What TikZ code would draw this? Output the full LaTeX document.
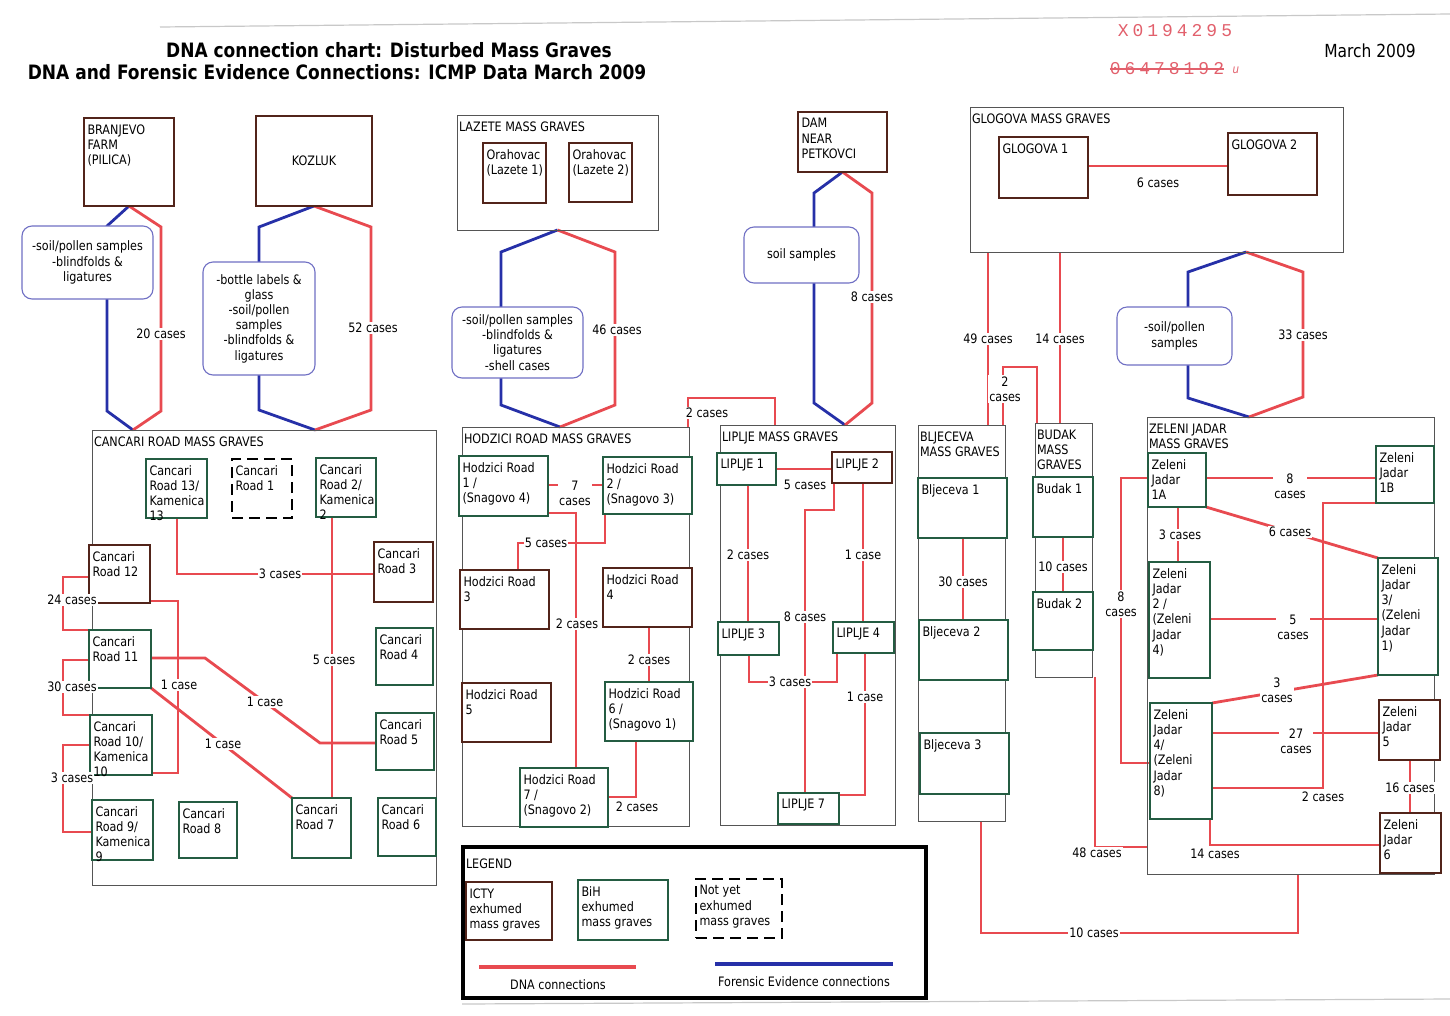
\documentclass[tikz,border=0pt]{standalone}
\usepackage{fontspec}
\setmainfont{DejaVu Sans}[FakeStretch=0.86]
\newfontfamily\stampfont[LetterSpace=22]{Liberation Mono}
\usetikzlibrary{calc}
\definecolor{dnared}{RGB}{232,74,80}
\definecolor{fevblue}{RGB}{38,48,168}
\definecolor{ictybrown}{RGB}{82,36,26}
\definecolor{bihgreen}{RGB}{36,92,66}
\definecolor{grpgray}{RGB}{85,85,85}
\definecolor{bubbleblue}{RGB}{112,112,196}
\definecolor{stampred}{RGB}{226,96,108}
\definecolor{scangray}{RGB}{200,200,200}
\newcommand{\tf}{\fontsize{13}{15.2}\selectfont}
\pgfdeclarelayer{bg}
\pgfsetlayers{bg,main}
\tikzset{
  icty/.style={draw=ictybrown, line width=2.8pt, fill=white},
  bih/.style={draw=bihgreen, line width=2.8pt, fill=white},
  notyet/.style={draw=black, line width=1.8pt, dash pattern=on 11pt off 6pt, fill=white},
  grp/.style={draw=grpgray, line width=0.9pt},
  bubble/.style={draw=bubbleblue, line width=1.1pt, rounded corners=10pt, fill=white, align=center, font=\tf},
  boxtext/.style={align=left, font=\tf},
  grptitle/.style={align=left, font=\tf},
  dna/.style={draw=dnared, line width=2.8pt},
  fev/.style={draw=fevblue, line width=2.8pt},
  lbl/.style={fill=white, inner sep=1.2pt, font=\tf, align=center},
  stamp/.style={text=stampred, font=\stampfont\fontsize{18}{20}\selectfont},
  headline/.style={font=\bfseries\fontsize{19.8}{22}\selectfont},
}
\newcommand{\gbox}[7]{%
  \node[#1, anchor=north west, minimum width={(#5-#3)*1pt}, minimum height={(#6-#4)*1pt}] (#2) at (#3,#4) {};
  \node[boxtext, anchor=north west] (#2t) at ([shift={(3.5,6.5)}]#2.north west) {#7};
}
\newcommand{\ggrp}[6]{%
  \node[grp, anchor=north west, minimum width={(#4-#2)*1pt}, minimum height={(#5-#3)*1pt}] (#1) at (#2,#3) {};
  \node[grptitle, anchor=north west] (#1t) at ([shift={(2,7)}]#1.north west) {#6};
}
\newcommand{\gbub}[6]{%
  \node[bubble, anchor=north west, minimum width={(#4-#2)*1pt}, minimum height={(#5-#3)*1pt}] (#1) at (#2,#3) {#6};
}
\begin{document}
\begin{tikzpicture}[x=1pt,y=-1pt, every node/.style={inner sep=0pt, outer sep=0pt}]
\begin{pgfonlayer}{bg}
\fill[white] (0,0) rectangle (1450,1015);
\end{pgfonlayer}
\useasboundingbox (0,0) rectangle (1450,1015);

% scan edges
\coordinate (scanA) at (160,27); \coordinate (scanB) at (1450,14);
\draw[scangray, line width=1.2pt] (scanA) -- (scanB);
\coordinate (scanC) at (462,1004); \coordinate (scanD) at (1450,999);
\draw[scangray, line width=1.2pt] (scanC) -- (scanD);

% titles
\node[headline] (title1) at (389,50) {DNA connection chart: Disturbed Mass Graves};
\node[headline] (title2) at (337,72) {DNA and Forensic Evidence Connections: ICMP Data March 2009};
\node[stamp] (stamp1) at (1175,31) {X0194295};
\node[stamp] (stamp2) at (1167,69) {06478192};
\draw[stampred, line width=1.1pt] (stamp2.west) -- (stamp2.east);
\node[text=stampred, font=\itshape\fontsize{12}{14}\selectfont] (stampu) at (1236,70) {u};
\node[font=\fontsize{18}{20}\selectfont] (date) at (1370,51) {March 2009};

% groups
\ggrp{lazeteg}{457}{115}{658}{230}{LAZETE MASS GRAVES}
\ggrp{glogovag}{970}{107}{1343}{252}{GLOGOVA MASS GRAVES}
\ggrp{cancarig}{92}{430}{436}{885}{CANCARI ROAD MASS GRAVES}
\ggrp{hodzicig}{462}{427}{689}{826}{HODZICI ROAD MASS GRAVES}
\ggrp{lipljeg}{720}{425}{895}{825}{LIPLJE MASS GRAVES}
\ggrp{bljg}{918}{425}{1005}{821}{BLJECEVA\\MASS GRAVES}
\ggrp{budakg}{1035}{423}{1092}{677}{BUDAK\\MASS\\GRAVES}
\ggrp{zelenig}{1147}{417}{1434}{874}{ZELENI JADAR\\MASS GRAVES}

% top graves
\gbox{icty}{branjevo}{84}{118}{174}{206}{BRANJEVO\\FARM\\(PILICA)}
\node[icty, anchor=north west, minimum width=116pt, minimum height=90pt, font=\tf] (kozluk) at (256,116) {KOZLUK};
\gbox{icty}{lazete1}{483}{143}{546}{203}{Orahovac\\(Lazete 1)}
\gbox{icty}{lazete2}{569}{143}{632}{202}{Orahovac\\(Lazete 2)}
\gbox{icty}{dam}{798}{112}{887}{172}{DAM\\NEAR\\PETKOVCI}
\gbox{icty}{glog1}{999}{137}{1088}{198}{GLOGOVA 1}
\gbox{icty}{glog2}{1228}{133}{1317}{195}{GLOGOVA 2}

% Cancari
\gbox{bih}{c13}{146}{459}{207}{518}{Cancari\\Road 13/\\Kamenica\\13}
\gbox{notyet}{c1}{232}{459}{292}{518}{Cancari\\Road 1}
\gbox{bih}{c2}{316}{458}{376}{517}{Cancari\\Road 2/\\Kamenica\\2}
\gbox{icty}{c12}{89}{545}{150}{603}{Cancari\\Road 12}
\gbox{icty}{c3}{374}{542}{433}{602}{Cancari\\Road 3}
\gbox{bih}{c11}{89}{630}{151}{688}{Cancari\\Road 11}
\gbox{bih}{c4}{376}{628}{433}{685}{Cancari\\Road 4}
\gbox{bih}{c10}{90}{715}{152}{775}{Cancari\\Road 10/\\Kamenica\\10}
\gbox{bih}{c5}{376}{713}{434}{770}{Cancari\\Road 5}
\gbox{bih}{c9}{92}{800}{153}{860}{Cancari\\Road 9/\\Kamenica\\9}
\gbox{bih}{c8}{179}{802}{237}{858}{Cancari\\Road 8}
\gbox{bih}{c7}{292}{798}{351}{858}{Cancari\\Road 7}
\gbox{bih}{c6}{378}{798}{436}{856}{Cancari\\Road 6}

% Hodzici
\gbox{bih}{h1}{459}{456}{548}{516}{Hodzici Road\\1 /\\(Snagovo 4)}
\gbox{bih}{h2}{603}{457}{692}{514}{Hodzici Road\\2 /\\(Snagovo 3)}
\gbox{icty}{h3}{460}{570}{549}{629}{Hodzici Road\\3}
\gbox{icty}{h4}{603}{568}{692}{627}{Hodzici Road\\4}
\gbox{icty}{h5}{462}{683}{551}{742}{Hodzici Road\\5}
\gbox{bih}{h6}{605}{682}{693}{741}{Hodzici Road\\6 /\\(Snagovo 1)}
\gbox{bih}{h7}{520}{768}{608}{827}{Hodzici Road\\7 /\\(Snagovo 2)}

% Liplje
\gbox{bih}{l1}{717}{453}{776}{485}{LIPLJE 1}
\gbox{icty}{l2}{832}{452}{892}{483}{LIPLJE 2}
\gbox{bih}{l3}{718}{622}{779}{655}{LIPLJE 3}
\gbox{bih}{l4}{833}{622}{894}{653}{LIPLJE 4}
\gbox{bih}{l7}{778}{793}{839}{824}{LIPLJE 7}

% Bljeceva, Budak
\gbox{bih}{b1}{918}{478}{1007}{538}{Bljeceva 1}
\gbox{bih}{b2}{919}{620}{1008}{680}{Bljeceva 2}
\gbox{bih}{b3}{920}{733}{1009}{794}{Bljeceva 3}
\gbox{bih}{bu1}{1033}{477}{1093}{537}{Budak 1}
\gbox{bih}{bu2}{1033}{592}{1093}{650}{Budak 2}

% Zeleni Jadar
\gbox{bih}{z1a}{1148}{453}{1206}{507}{Zeleni\\Jadar\\1A}
\gbox{bih}{z1b}{1376}{446}{1434}{503}{Zeleni\\Jadar\\1B}
\gbox{bih}{z2}{1149}{562}{1210}{678}{Zeleni\\Jadar\\2 /\\(Zeleni\\Jadar\\4)}
\gbox{bih}{z3}{1378}{558}{1438}{675}{Zeleni\\Jadar\\3/\\(Zeleni\\Jadar\\1)}
\gbox{bih}{z4}{1150}{703}{1212}{819}{Zeleni\\Jadar\\4/\\(Zeleni\\Jadar\\8)}
\gbox{icty}{z5}{1379}{700}{1440}{760}{Zeleni\\Jadar\\5}
\gbox{icty}{z6}{1380}{813}{1441}{873}{Zeleni\\Jadar\\6}

% bubbles
\gbub{bub1}{22}{226}{153}{299}{-soil/pollen samples\\-blindfolds \&\\ligatures}
\gbub{bub2}{203}{262}{315}{375}{-bottle labels \&\\glass\\-soil/pollen\\samples\\-blindfolds \&\\ligatures}
\gbub{bub3}{452}{307}{583}{378}{-soil/pollen samples\\-blindfolds \&\\ligatures\\-shell cases}
\gbub{bub4}{744}{227}{859}{283}{soil samples}
\gbub{bub5}{1117}{307}{1232}{365}{-soil/pollen\\samples}

% legend
\node[draw=black, line width=3.5pt, anchor=north west, minimum width=463pt, minimum height=151pt] (legend) at (463,847) {};
\node[grptitle, anchor=north west] (legendt) at (466,859) {LEGEND};
\gbox{icty}{lg1}{466}{882}{552}{940}{ICTY\\exhumed\\mass graves}
\gbox{bih}{lg2}{578}{880}{668}{940}{BiH\\exhumed\\mass graves}
\gbox{notyet}{lg3}{696}{879}{782}{938}{Not yet\\exhumed\\mass graves}
\coordinate (dnaA) at (479,967); \coordinate (dnaB) at (636,967);
\coordinate (fevA) at (715,964); \coordinate (fevB) at (893,964);
\node[font=\tf] (dnat) at (558,985) {DNA connections};
\node[font=\tf] (fevt) at (804,982) {Forensic Evidence connections};

\begin{pgfonlayer}{bg}
\draw[dna, line width=3.4pt] (dnaA) -- (dnaB);
\draw[fev, line width=3.4pt] (fevA) -- (fevB);
% hexagons
\draw[fev] (branjevo.south) -- (107,226) -- (107,411) -- (cancarig.north -| 133,0);
\draw[dna] (branjevo.south) -- (161,227) -- (161,411) -- (cancarig.north -| 133,0);
\draw[fev] (kozluk.south) -- (259,227) -- (259,410) -- (cancarig.north -| 315,0);
\draw[dna] (kozluk.south) -- (371,227) -- (371,410) -- (cancarig.north -| 315,0);
\draw[fev] (lazeteg.south) -- (501,252) -- (501,405) -- (hodzicig.north -| 560,0);
\draw[dna] (lazeteg.south) -- (615,252) -- (615,405) -- (hodzicig.north -| 560,0);
\draw[fev] (dam.south) -- (814,193) -- (814,403) -- (lipljeg.north -| 845,0);
\draw[dna] (dam.south) -- (872,193) -- (872,403) -- (lipljeg.north -| 845,0);
\draw[fev] (glogovag.south -| 1246,0) -- (1188,272) -- (1188,398) -- (zelenig.north -| 1249,0);
\draw[dna] (glogovag.south -| 1246,0) -- (1303,272) -- (1303,397) -- (zelenig.north -| 1249,0);
% Glogova
\draw[dna] (glog1.east |- 0,166) -- (glog2.west |- 0,166);
\draw[dna] (glogovag.south -| 988,0) -- (bljg.north -| 988,0);
\draw[dna] (glogovag.south -| 1060,0) -- (budakg.north -| 1060,0);
\draw[dna] (bljg.north -| 1003,0) -- (1003,367) -- (1037,367) -- (budakg.north -| 1037,0);
% Cancari
\draw[dna] (c13.south -| 177,0) -- (177,574) -- (c3.west |- 0,574);
\draw[dna] (c2.south -| 332,0) -- (c7.north -| 332,0);
\draw[dna] (c12.east |- 0,601) -- (178,601) -- (178,773) -- (c10.east |- 0,773);
\draw[dna] (c11.east |- 0,658) -- (205,658) -- (320,743) -- (c5.west |- 0,743);
\draw[dna] (c11.south east) -- (c7.north west);
\draw[dna] (c12.west |- 0,577) -- (63,577) -- (63,630) -- (c11.west |- 0,630);
\draw[dna] (c11.west |- 0,660) -- (63,660) -- (63,715) -- (c10.west |- 0,715);
\draw[dna] (c10.west |- 0,745) -- (63,745) -- (63,832) -- (c9.west |- 0,832);
% Hodzici
\draw[dna] (h1.east |- 0,485) -- (h2.west |- 0,485);
\draw[dna] (h2.south -| 605,0) -- (605,543) -- (518,543) -- (h3.north -| 518,0);
\draw[dna] (h1.east |- 0,513) -- (576,513) -- (h7.north -| 576,0);
\draw[dna] (h4.south -| 649,0) -- (h6.north -| 649,0);
\draw[dna] (h6.south -| 636,0) -- (636,797) -- (h7.east |- 0,797);
\draw[dna] (hodzicig.north -| 688,0) -- (688,398) -- (775,398) -- (lipljeg.north -| 775,0);
% Liplje
\draw[dna] (l1.east |- 0,469) -- (l2.west |- 0,469);
\draw[dna] (l1.south -| 748,0) -- (l3.north -| 748,0);
\draw[dna] (l2.south -| 863,0) -- (l4.north -| 863,0);
\draw[dna] (l2.south -| 834,0) -- (834,510) -- (805,510) -- (l7.north -| 805,0);
\draw[dna] (l3.south -| 749,0) -- (749,682) -- (837,682) -- (l4.south -| 837,0);
\draw[dna] (l4.south -| 865,0) -- (865,795) -- (l7.east |- 0,795);
% Bljeceva, Budak
\draw[dna] (b1.south -| 963,0) -- (b2.north -| 963,0);
\draw[dna] (bu1.south -| 1063,0) -- (bu2.north -| 1063,0);
% Zeleni
\draw[dna] (z1a.east |- 0,478) -- (z1b.west |- 0,478);
\draw[dna] (z1a.south east) -- (z3.north west);
\draw[dna] (z1a.south -| 1178,0) -- (z2.north -| 1178,0);
\draw[dna] (z2.east |- 0,619) -- (z3.west |- 0,619);
\draw[dna] (z4.north east) -- (z3.south west);
\draw[dna] (z4.east |- 0,733) -- (z5.west |- 0,733);
\draw[dna] (z4.east |- 0,788) -- (1323,788) -- (1323,503) -- (z1b.south west);
\draw[dna] (z5.south -| 1410,0) -- (z6.north -| 1410,0);
\draw[dna] (z4.south -| 1210,0) -- (1210,845) -- (z6.west |- 0,845);
\draw[dna] (z1a.west |- 0,478) -- (1121,478) -- (1121,763) -- (z4.west |- 0,763);
\draw[dna] (budakg.south -| 1095,0) -- (1095,847) -- (zelenig.west |- 0,847);
\draw[dna] (bljg.south -| 981,0) -- (981,933) -- (1298,933) -- (zelenig.south -| 1298,0);
\end{pgfonlayer}

% labels
\node[lbl] (t20) at (161,334) {20 cases};
\node[lbl] (t52) at (373,328) {52 cases};
\node[lbl] (t46) at (617,330) {46 cases};
\node[lbl] (t8d) at (872,297) {8 cases};
\node[lbl] (t33) at (1303,335) {33 cases};
\node[lbl] (t6g) at (1158,183) {6 cases};
\node[lbl] (t49) at (988,339) {49 cases};
\node[lbl] (t14b) at (1060,339) {14 cases};
\node[lbl] (t2bb) at (1005,389) {2\\cases};
\node[lbl] (t3c) at (280,574) {3 cases};
\node[lbl] (t5c) at (334,660) {5 cases};
\node[lbl] (t1a) at (179,685) {1 case};
\node[lbl] (t1b) at (265,702) {1 case};
\node[lbl] (t1c) at (223,744) {1 case};
\node[lbl] (t24) at (72,600) {24 cases};
\node[lbl] (t30) at (72,687) {30 cases};
\node[lbl] (t3l) at (72,778) {3 cases};
\node[lbl] (t7h) at (575,493) {7\\cases};
\node[lbl] (t5h) at (546,543) {5 cases};
\node[lbl] (t2h) at (577,624) {2 cases};
\node[lbl] (t2h46) at (649,660) {2 cases};
\node[lbl] (t2h67) at (637,807) {2 cases};
\node[lbl] (t2hl) at (707,413) {2 cases};
\node[lbl] (t5l) at (805,485) {5 cases};
\node[lbl] (t2l) at (748,555) {2 cases};
\node[lbl] (t1l) at (863,555) {1 case};
\node[lbl] (t8l) at (805,617) {8 cases};
\node[lbl] (t3l34) at (790,682) {3 cases};
\node[lbl] (t1l47) at (865,697) {1 case};
\node[lbl] (t30b) at (963,582) {30 cases};
\node[lbl] (t10b) at (1063,567) {10 cases};
\node[lbl] (t8z) at (1290,486) {8\\cases};
\node[lbl] (t6z) at (1290,532) {6 cases};
\node[lbl] (t3z) at (1180,535) {3 cases};
\node[lbl] (t5z) at (1293,627) {5\\cases};
\node[lbl] (t3z43) at (1277,690) {3\\cases};
\node[lbl] (t27z) at (1296,741) {27\\cases};
\node[lbl] (t2z) at (1323,797) {2 cases};
\node[lbl] (t16z) at (1410,788) {16 cases};
\node[lbl] (t14z) at (1215,854) {14 cases};
\node[lbl] (t8zl) at (1121,604) {8\\cases};
\node[lbl] (t48) at (1097,853) {48 cases};
\node[lbl] (t10z) at (1094,933) {10 cases};
\end{tikzpicture}
\end{document}
